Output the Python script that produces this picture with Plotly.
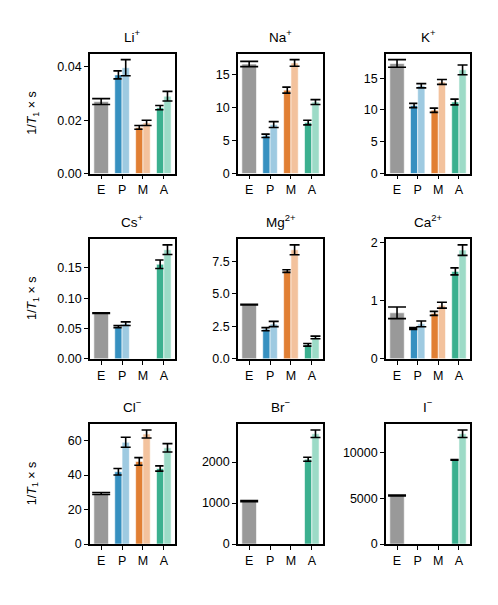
import plotly.graph_objects as go
from plotly.subplots import make_subplots

ions = ["Li<sup>+</sup>", "Na<sup>+</sup>", "K<sup>+</sup>",
        "Cs<sup>+</sup>", "Mg<sup>2+</sup>", "Ca<sup>2+</sup>",
        "Cl<sup>−</sup>", "Br<sup>−</sup>", "I<sup>−</sup>"]
categories = ["E", "P", "M", "A"]

# E (experiment): one bar per ion
e_rate = [0.027, 16.55, 17.3, 0.0755, 4.17, 0.79, 29.3, 1045, 5290]
e_err = [0.0011, 0.4, 0.6, 0.0005, 0.03, 0.1, 0.6, 15, 40]

# P, M, A: dark bar and light bar per model
dark_rate = [[0.037, 0.0173, 0.0247], [5.7, 12.6, 7.7], [10.7, 9.95, 11.25],
             [0.053, None, 0.156], [2.28, 6.75, 1.08], [0.52, 0.78, 1.5],
             [41.9, 47.9, 43.8], [None, None, 2068], [None, None, 9180]]
dark_err = [[0.0015, 0.0007, 0.0008], [0.25, 0.45, 0.35], [0.33, 0.33, 0.45],
            [0.0018, 0, 0.007], [0.12, 0.1, 0.1], [0.015, 0.035, 0.06],
            [1.9, 2.2, 1.5], [0, 0, 50], [0, 0, 40]]
light_rate = [[0.0397, 0.019, 0.029], [7.4, 16.7, 10.8], [13.8, 14.4, 16.3],
              [0.058, None, 0.18], [2.68, 8.38, 1.65], [0.6, 0.92, 1.865],
              [59.0, 63.8, 55.8], [None, None, 2690], [None, None, 12020]]
light_err = [[0.003, 0.001, 0.0018], [0.45, 0.5, 0.37], [0.33, 0.38, 0.77],
             [0.003, 0, 0.008], [0.2, 0.38, 0.1], [0.05, 0.05, 0.09],
             [2.9, 2.3, 2.4], [0, 0, 90], [0, 0, 410]]

ytick_step = [0.02, 5, 5, 0.05, 2.5, 1, 20, 1000, 5000]
ytick_fmt = [".2f", "d", "d", ".2f", ".1f", "d", "d", "d", "d"]

E_COLOR = "#999999"
DARK = ["#3690c0", "#e17f33", "#3bb08f"]
LIGHT = ["#9ecae1", "#f3c29d", "#9cdbc7"]

W, H = 498, 605
PAD = 8  # the page body margin pushes the figure 8px right and down
COLS = [(90, 175), (238, 323), (386, 470)]
ROWS = [(51.7, 173.3), (240, 361.7), (428.3, 550)]
FONT = "Liberation Sans, Arial, sans-serif"


def px_x(x):
    return (x - PAD) / W


def px_y(y):
    return 1 - (y - PAD) / H


fig = make_subplots(rows=3, cols=3, subplot_titles=ions)

for i in range(9):
    r, c = i // 3 + 1, i % 3 + 1
    bar_line = dict(color="white", width=0.6)
    fig.add_trace(go.Bar(
        x=[0], y=[e_rate[i]], width=0.7, offset=-0.35,
        marker=dict(color=E_COLOR, line=bar_line),
        error_y=dict(type="data", array=[e_err[i]], color="black", thickness=1.6, width=9),
    ), row=r, col=c)
    fig.add_trace(go.Bar(
        x=[1, 2, 3], y=dark_rate[i], width=0.35, offset=-0.35,
        marker=dict(color=DARK, line=bar_line),
        error_y=dict(type="data", array=dark_err[i], color="black", thickness=1.6, width=5),
    ), row=r, col=c)
    fig.add_trace(go.Bar(
        x=[1, 2, 3], y=light_rate[i], width=0.35, offset=0,
        marker=dict(color=LIGHT, line=bar_line),
        error_y=dict(type="data", array=light_err[i], color="black", thickness=1.6, width=5),
    ), row=r, col=c)

    tops = [e_rate[i] + e_err[i]]
    for vals, errs in ((dark_rate[i], dark_err[i]), (light_rate[i], light_err[i])):
        tops += [v + e for v, e in zip(vals, errs) if v is not None]
    ymax = max(tops) * 1.05

    x0, x1 = COLS[c - 1]
    y0, y1 = ROWS[r - 1]
    axis_style = dict(showline=True, mirror=True, linecolor="black", linewidth=1.6,
                      ticks="outside", ticklen=4, tickwidth=1.3, tickcolor="black",
                      showgrid=False, zeroline=False,
                      tickfont=dict(size=12.5, color="black", family=FONT))
    fig.update_xaxes(domain=[px_x(x0), px_x(x1)], range=[-0.535, 3.535],
                     tickvals=[0, 1, 2, 3], ticktext=categories, row=r, col=c, **axis_style)
    fig.update_yaxes(domain=[px_y(y1), px_y(y0)], range=[0, ymax],
                     dtick=ytick_step[i], tick0=0, tickformat=ytick_fmt[i],
                     row=r, col=c, **axis_style)

# move subplot titles onto the new domains
for i, ann in enumerate(fig.layout.annotations):
    x0, x1 = COLS[i % 3]
    y0, _ = ROWS[i // 3]
    ann.update(x=(px_x(x0) + px_x(x1)) / 2, y=px_y(y0), yanchor="bottom", yshift=7,
               font=dict(size=13.5, color="black", family=FONT))

for y0, y1 in ROWS:
    fig.add_annotation(text="1/<i>T</i><sub>1</sub> × s", textangle=-90,
                       x=px_x(33), y=(px_y(y0) + px_y(y1)) / 2, xref="paper", yref="paper",
                       xanchor="center", yanchor="middle", showarrow=False,
                       font=dict(size=12.5, color="black", family=FONT))

fig.update_layout(width=W, height=H, margin=dict(l=0, r=0, t=0, b=0),
                  barmode="overlay", showlegend=False,
                  plot_bgcolor="white", paper_bgcolor="white",
                  font=dict(family=FONT, color="black"))

fig.write_html("out.html")
